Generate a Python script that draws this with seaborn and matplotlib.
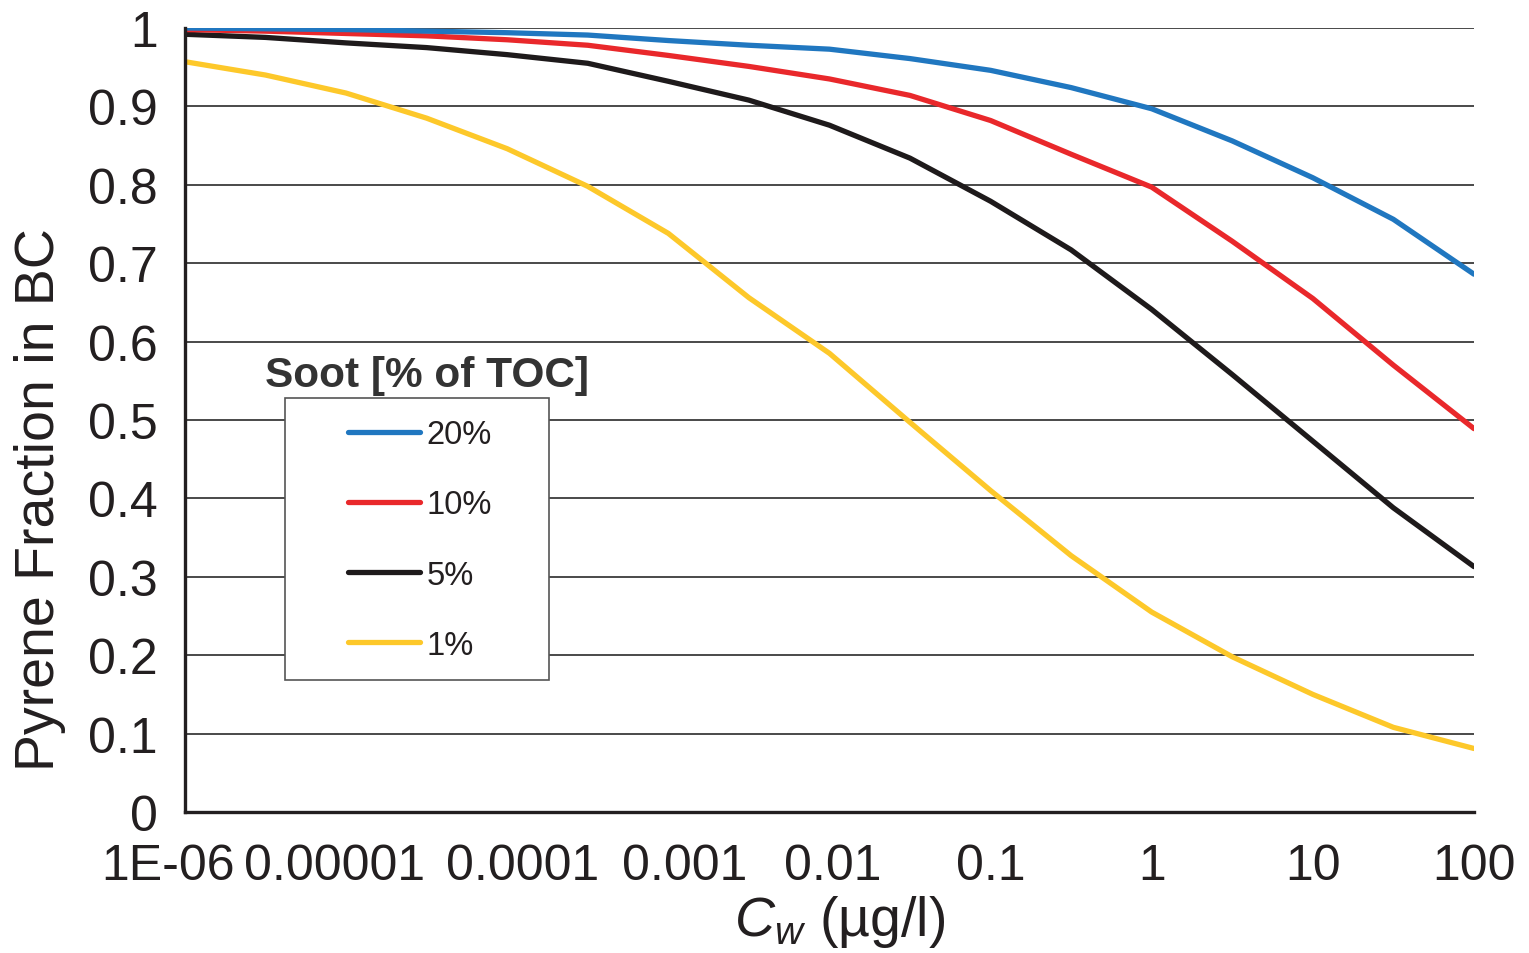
import matplotlib
matplotlib.use("Agg")
import matplotlib.pyplot as plt
import matplotlib.transforms as mtransforms
import numpy as np
import pandas as pd
import seaborn as sns
from matplotlib.patches import Rectangle
from matplotlib.ticker import NullLocator

# Dissolved pyrene concentration (µg/l), half-decade steps
cw = [1e-6, 3.16e-6, 1e-5, 3.16e-5, 1e-4, 3.16e-4, 1e-3, 3.16e-3, 1e-2,
      3.16e-2, 0.1, 0.316, 1.0, 3.16, 10.0, 31.6, 100.0]

# Fraction of pyrene sorbed to black carbon, per soot content
soot_20 = [1.000, 0.999, 0.998, 0.996, 0.994, 0.991, 0.984, 0.978, 0.973,
           0.961, 0.946, 0.924, 0.897, 0.856, 0.809, 0.756, 0.686]
soot_10 = [0.998, 0.996, 0.993, 0.990, 0.985, 0.978, 0.965, 0.951, 0.935,
           0.914, 0.882, 0.839, 0.797, 0.728, 0.655, 0.570, 0.489]
soot_5 = [0.992, 0.988, 0.981, 0.975, 0.966, 0.955, 0.932, 0.908, 0.876,
          0.834, 0.779, 0.717, 0.641, 0.558, 0.473, 0.388, 0.313]
soot_1 = [0.957, 0.940, 0.917, 0.885, 0.846, 0.798, 0.738, 0.656, 0.585,
          0.497, 0.410, 0.327, 0.255, 0.198, 0.150, 0.108, 0.081]

series_labels = ["20%", "10%", "5%", "1%"]
series_values = [soot_20, soot_10, soot_5, soot_1]
series_colors = ["#2077c0", "#e9282b", "#1e1a1b", "#fdc82a"]

xtick_values = [1e-6, 1e-5, 1e-4, 1e-3, 1e-2, 1e-1, 1, 10, 100]
xtick_labels = ["1E-06", "0.00001", "0.0001", "0.001", "0.01", "0.1", "1", "10", "100"]
ytick_values = [0, 0.1, 0.2, 0.3, 0.4, 0.5, 0.6, 0.7, 0.8, 0.9, 1.0]
ytick_labels = ["0", "0.1", "0.2", "0.3", "0.4", "0.5", "0.6", "0.7", "0.8", "0.9", "1"]

legend_title = "Soot [% of TOC]"

sns.set_style("white")
plt.rcParams["font.family"] = ["Liberation Sans", "DejaVu Sans"]
plt.rcParams["mathtext.fontset"] = "custom"
plt.rcParams["mathtext.rm"] = "Liberation Sans"
plt.rcParams["mathtext.it"] = "Liberation Sans:italic"

text_color = "#231f20"

frames = []
for label, vals in zip(series_labels, series_values):
    frames.append(pd.DataFrame({"Cw": cw, "fraction": vals, "soot": label}))
df = pd.concat(frames, ignore_index=True)

fig = plt.figure(figsize=(15.29, 9.54), dpi=100)
ax = fig.add_axes([0.121, 0.1478, 0.843, 0.8218])

for label, color in zip(series_labels[::-1], series_colors[::-1]):
    sns.lineplot(data=df[df["soot"] == label], x="Cw", y="fraction", ax=ax,
                 color=color, linewidth=3.8, label=label, zorder=2,
                 solid_capstyle="round", estimator=None, sort=True)

ax.set_xscale("log")
ax.set_xlim(1e-6, 100)
ax.set_ylim(0, 1.0)
ax.set_xticks(xtick_values)
ax.set_xticklabels(xtick_labels)
ax.xaxis.set_minor_locator(NullLocator())
ax.set_yticks(ytick_values)
ax.set_yticklabels(ytick_labels)

ax.yaxis.grid(True, color="#3a3a3a", linewidth=1.3)
ax.xaxis.grid(False)
ax.set_axisbelow(True)

for side in ("top", "right"):
    ax.spines[side].set_visible(False)
for side in ("left", "bottom"):
    ax.spines[side].set_color(text_color)
    ax.spines[side].set_linewidth(2.4)
    ax.spines[side].set_zorder(4)

ax.tick_params(axis="both", which="major", direction="out", length=9.5, width=2.4,
               color=text_color, labelcolor=text_color, labelsize=36)
ax.tick_params(axis="y", pad=10)
ax.tick_params(axis="x", pad=13)

# Nudge the crowded low-concentration labels apart (horizontal shift in points)
label_nudges = [-12, -8, 11, 12, 2, 0, 0, 0, 0]
for tick_label, dx in zip(ax.get_xticklabels(), label_nudges):
    tick_label.set_transform(tick_label.get_transform() +
                             mtransforms.ScaledTranslation(dx / 72, 0, fig.dpi_scale_trans))

ax.set_xlabel(r"$C_w$ (µg/l)", fontsize=40, color=text_color)
ax.set_ylabel("Pyrene Fraction in BC", fontsize=40, color=text_color)
ax.xaxis.set_label_coords(0.508, -0.103)
ax.yaxis.set_label_coords(-0.0925, 0.40)

# Legend: white box with the title set above it
box = Rectangle((0.0776, 0.168), 0.2048, 0.360, transform=ax.transAxes,
                facecolor="white", edgecolor="#555555", linewidth=1.2, zorder=3)
ax.add_patch(box)

handles, labels = ax.get_legend_handles_labels()
order = [labels.index(l) for l in series_labels]
leg = ax.legend([handles[i] for i in order], [labels[i] for i in order],
                loc="upper left", bbox_to_anchor=(0.1265, 0.501),
                frameon=False, fontsize=23.5, handlelength=2.2,
                handletextpad=0.2, labelspacing=1.2, borderpad=0,
                borderaxespad=0)
for t in leg.get_texts():
    t.set_color(text_color)
for h in leg.get_lines():
    h.set_linewidth(3.8)
    h.set_solid_capstyle("round")
leg.set_zorder(5)

ax.text(0.1877, 0.557, legend_title, transform=ax.transAxes, ha="center",
        va="center", fontsize=30.5, fontweight="bold", color="#333333", zorder=6)

fig.savefig("out.png", dpi=100)
